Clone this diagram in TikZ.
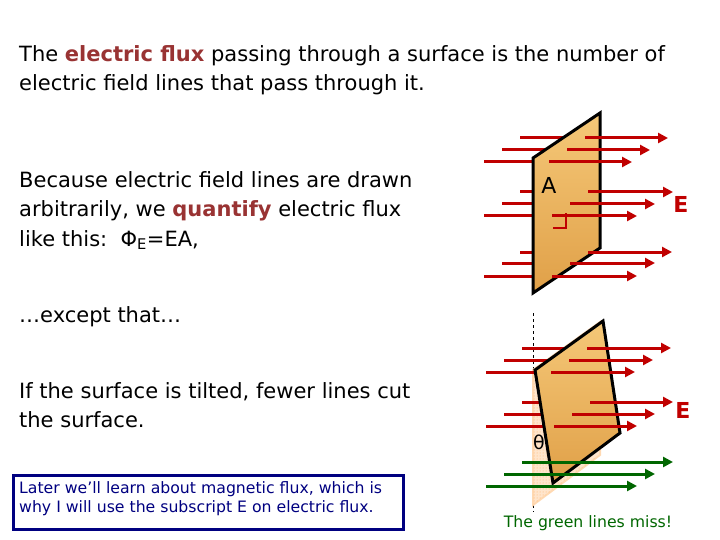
\documentclass[tikz,border=0pt]{standalone}
\usepackage{fontspec}
\setmainfont{DejaVu Sans}
\usetikzlibrary{arrows.meta,patterns}
\definecolor{dred}{HTML}{993333}
\definecolor{ared}{HTML}{C00000}
\definecolor{agreen}{HTML}{006600}
\definecolor{ptop}{HTML}{F5C878}
\definecolor{pbot}{HTML}{E0A048}
\definecolor{navyc}{HTML}{000080}
\tikzset{
 fl/.style={ared,line width=3pt},
 fla/.style={ared,line width=3pt,-{Triangle[length=10pt,width=10pt]}},
 gla/.style={agreen,line width=3pt,-{Triangle[length=10pt,width=10pt]}},
 panel/.style={draw=black,line width=3pt,line join=miter,top color=ptop,bottom color=pbot},
 txt/.style={anchor=base west,inner sep=0pt,font=\fontsize{21}{24}\selectfont},
}
\begin{document}
\begin{tikzpicture}[x=1pt,y=-1pt]
\useasboundingbox (0,0) rectangle (720,540);
% texts
\node[txt] (t1) at (19,62) {The \textbf{\color{dred}electric flux} passing through a surface is the number of};
\node[txt] (t2) at (19,91) {electric field lines that pass through it.};
\node[txt] (t3) at (19,188) {Because electric field lines are drawn};
\node[txt] (t4) at (19,217) {arbitrarily, we \textbf{\color{dred}quantify} electric flux};
\node[txt] (t5) at (19,246) {like this:\ \ Φ\textsubscript{E}=EA,};
\node[txt] (t6) at (19,322) {…except that…};
\node[txt] (t7) at (19,398) {If the surface is tilted, fewer lines cut};
\node[txt] (t8) at (19,427) {the surface.};
\node[draw=navyc,line width=2.5pt,anchor=north west,minimum width=390pt,minimum height=54pt,inner sep=0pt] (bx) at (12,474) {};
\node[anchor=north west,align=left,text=navyc,font=\fontsize{15.7}{19}\selectfont,inner sep=0pt] (bt) at (19,481) {Later we’ll learn about magnetic flux, which is\\why I will use the subscript E on electric flux.};
% top panel
\foreach \y/\s/\e in {138/520/563,150/502/545,162/484/533,192/520/533,204/502/533,216/484/533,252/520/533,263/502/533,276/484/533}
  \draw[fl] (\s,\y) -- (\e,\y);
\draw[panel] (533,158) -- (600,113) -- (600,248) -- (533,293) -- cycle;
\foreach \y/\s/\e in {138/585/668,150/567/650,162/549/632,192/588/673,204/570/655,216/552/637,252/588/672,263/570/655,276/552/637}
  \draw[fla] (\s,\y) -- (\e,\y);
\node[font=\fontsize{22}{24}\selectfont] (A) at (549,185) {A};
\draw[ared,line width=2.5pt] (553,228) -- (566,228) -- (566,213);
\node[text=ared,font=\bfseries\fontsize{22}{24}\selectfont] (E1) at (681,204) {E};
% bottom panel
\draw[dashed,thin] (533,313) -- (533,512);
\fill[orange!20,draw=orange!30,line width=2pt] (533,370) -- (600,322) -- (600,455) -- (533,505) -- cycle;
\fill[pattern=dots,pattern color=orange!60] (533,370) -- (553,483) -- (600,455) -- (533,505) -- cycle;
\foreach \y/\s/\e in {348/522/565,360/504/549,372/486/536,402/522/540,414/504/542,426/486/544}
  \draw[fl] (\s,\y) -- (\e,\y);
\draw[panel] (535,370) -- (603,321) -- (620,433) -- (553,483) -- cycle;
\foreach \y/\s/\e in {348/587/671,360/569/653,372/551/635,402/590/673,414/572/655,426/554/637}
  \draw[fla] (\s,\y) -- (\e,\y);
\foreach \y/\s/\e in {462/522/673,474/504/655,486/486/637}
  \draw[gla] (\s,\y) -- (\e,\y);
\node[font=\fontsize{19}{20}\selectfont] (th) at (539,442) {θ};
\node[text=ared,font=\bfseries\fontsize{22}{24}\selectfont] (E2) at (683,410) {E};
\node[text=agreen,font=\fontsize{15.7}{18}\selectfont] (gm) at (588,523) {The green lines miss!};
\end{tikzpicture}
\end{document}
